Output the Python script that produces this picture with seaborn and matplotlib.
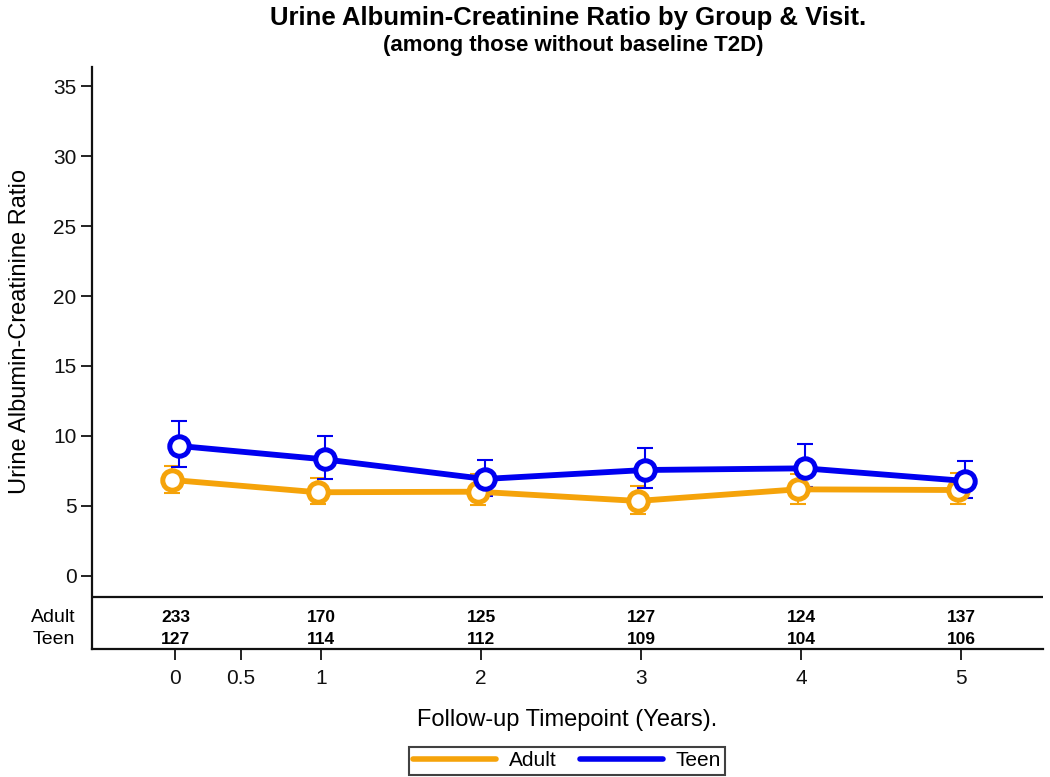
import seaborn as sns
import matplotlib.pyplot as plt
import pandas as pd

# data
times = [0.09, 1, 2, 3, 4, 5]
adult_mean = [6.86, 5.98, 6.02, 5.36, 6.19, 6.14]
adult_lo = [5.90, 5.12, 5.07, 4.43, 5.14, 5.12]
adult_hi = [7.86, 7.02, 7.29, 6.45, 7.30, 7.38]
teen_mean = [9.29, 8.33, 6.93, 7.57, 7.69, 6.79]
teen_lo = [7.79, 6.93, 5.71, 6.26, 6.33, 5.60]
teen_hi = [11.09, 10.00, 8.29, 9.12, 9.43, 8.24]
adult_n = [233, 170, 125, 127, 124, 137]
teen_n = [127, 114, 112, 109, 104, 106]
xtick_pos = [0.09, 0.5, 1, 2, 3, 4, 5]
xtick_labels = ["0", "0.5", "1", "2", "3", "4", "5"]

colors = {"Adult": "#F5A30A", "Teen": "#0000F0"}
dodge = {"Adult": -0.022, "Teen": 0.022}

rows = []
for g, m, lo, hi in [("Adult", adult_mean, adult_lo, adult_hi),
                     ("Teen", teen_mean, teen_lo, teen_hi)]:
    for t, a, b, c in zip(times, m, lo, hi):
        rows.append({"Group": g, "Time": t + dodge[g], "UACR": a, "lo": b, "hi": c})
df = pd.DataFrame(rows)

sns.set_theme(style="ticks")
plt.rcParams["font.family"] = ["Liberation Sans", "DejaVu Sans"]
plt.rcParams["text.color"] = "black"

fig = plt.figure(figsize=(10.5, 7.77), dpi=100)
ax = fig.add_axes([0.0873, 0.1643, 0.9060, 0.7495])

for g in ["Adult", "Teen"]:
    d = df[df["Group"] == g]
    ax.errorbar(d["Time"], d["UACR"],
                yerr=[d["UACR"] - d["lo"], d["hi"] - d["UACR"]],
                fmt="none", ecolor=colors[g], elinewidth=1.5, capsize=6,
                capthick=1.5, zorder=2)
    sns.lineplot(data=d, x="Time", y="UACR", color=colors[g], linewidth=4.2,
                 marker="o", markersize=14, markerfacecolor="white",
                 markeredgecolor=colors[g], markeredgewidth=3.6,
                 label=g, ax=ax, zorder=3, legend=False)

ax.set_xlim(-0.433, 5.51)
ax.set_ylim(-5.24, 36.36)
ax.set_yticks([0, 5, 10, 15, 20, 25, 30, 35])
ax.set_xticks(xtick_pos)
ax.set_xticklabels(xtick_labels)
ax.tick_params(axis="both", labelsize=15, length=8, width=1.3, color="#111111",
               labelcolor="#111111", pad=3)
ax.tick_params(axis="x", pad=6)
for s in ["top", "right"]:
    ax.spines[s].set_visible(False)
for s in ["left", "bottom"]:
    ax.spines[s].set_linewidth(1.6)
    ax.spines[s].set_color("#111111")

# at-risk table under the plot area
ax.axhline(-1.52, color="#111111", linewidth=1.6)
for t, a, b in zip(times, adult_n, teen_n):
    ax.text(t, -3.0, str(a), ha="center", va="center", fontsize=12.5,
            fontweight="bold", color="#000000")
    ax.text(t, -4.57, str(b), ha="center", va="center", fontsize=12.5,
            fontweight="bold", color="#000000")
ax.text(-0.535, -3.0, "Adult", ha="right", va="center", fontsize=14, color="#000000")
ax.text(-0.535, -4.57, "Teen", ha="right", va="center", fontsize=14, color="#000000")

ax.set_xlabel("Follow-up Timepoint (Years).", fontsize=17, color="#000000", labelpad=15)
ax.set_ylabel("Urine Albumin-Creatinine Ratio", fontsize=17, color="#000000")
ax.yaxis.set_label_coords(-0.064, 0.545)

fig.text(0.541, 0.977, "Urine Albumin-Creatinine Ratio by Group & Visit.",
         ha="center", va="center", fontsize=18.5, fontweight="bold", color="black")
fig.text(0.546, 0.941, "(among those without baseline T2D)",
         ha="center", va="center", fontsize=16, fontweight="bold", color="black")

handles = [plt.Line2D([], [], color=colors[g], linewidth=4) for g in ["Adult", "Teen"]]
leg = fig.legend(handles, ["Adult", "Teen"], loc="lower center", ncol=2,
                 bbox_to_anchor=(0.54, 0.0), fontsize=15, frameon=True,
                 fancybox=False, edgecolor="#111111", handlelength=4.0,
                 borderpad=0.2, columnspacing=1.1, handletextpad=0.6,
                 borderaxespad=0.12, labelcolor="black")
leg.get_frame().set_linewidth(1.5)

plt.savefig("out.png", dpi=100)
